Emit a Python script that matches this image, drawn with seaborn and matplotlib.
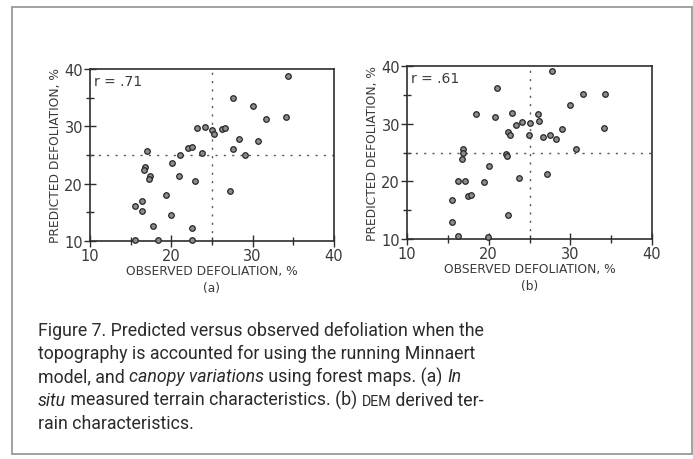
import matplotlib
matplotlib.use("Agg")
import matplotlib.pyplot as plt
import seaborn as sns
import pandas as pd
from matplotlib.lines import Line2D
from matplotlib.ticker import MultipleLocator

# ---- data ----
a_obs = [34.3, 27.6, 30.1, 34.1, 31.6, 23.2, 24.1, 25.0, 25.2, 26.2,
         26.6, 28.3, 30.7, 27.6, 29.1, 22.1, 22.5, 21.1, 23.8, 20.1,
         17.0, 16.8, 16.7, 17.4, 17.2, 20.9, 22.9, 27.2, 19.3, 15.5,
         16.4, 16.4, 19.9, 17.8, 22.6, 15.5, 18.4, 22.5]
a_pred = [38.7, 35.0, 33.5, 31.7, 31.2, 29.7, 29.9, 29.3, 28.7, 29.6,
          29.7, 27.8, 27.5, 26.0, 25.0, 26.2, 26.4, 25.0, 25.3, 23.6,
          25.7, 22.9, 22.3, 21.4, 20.8, 21.3, 20.4, 18.8, 18.1, 16.1,
          16.9, 15.2, 14.5, 12.7, 12.3, 10.2, 10.2, 10.2]
b_obs = [27.7, 21.0, 31.5, 34.2, 30.0, 18.5, 20.8, 22.85, 23.3, 24.1,
         25.0, 26.1, 26.2, 22.4, 22.6, 24.9, 26.6, 27.5, 28.2, 29.0,
         34.1, 30.7, 16.85, 16.85, 22.1, 22.3, 16.7, 20.1, 23.75, 27.1,
         16.3, 17.05, 19.4, 17.5, 17.8, 15.5, 22.4, 15.5, 16.3, 19.9]
b_pred = [39.1, 36.2, 35.2, 35.1, 33.3, 31.7, 31.1, 31.9, 29.8, 30.3,
          30.1, 31.7, 30.4, 28.5, 28.1, 28.1, 27.7, 27.95, 27.3, 29.0,
          29.2, 25.6, 25.6, 25.0, 24.8, 24.4, 23.9, 22.6, 20.6, 21.3,
          20.0, 20.0, 19.9, 17.5, 17.7, 16.8, 14.1, 12.9, 10.6, 10.3]
r_labels = ["r = .71", "r = .61"]
panel_labels = ["(a)", "(b)"]
ticks = [10, 20, 30, 40]
ref_line = 25
xlabel = "OBSERVED DEFOLIATION, %"
ylabel = "PREDICTED DEFOLIATION, %"

caption_lines = [
    [("Figure 7. Predicted versus observed defoliation when the", "n")],
    [("topography is accounted for using the running Minnaert", "n")],
    [("model, and ", "n"), ("canopy variations", "i"),
     (" using forest maps. (a) ", "n"), ("In", "i")],
    [("situ", "i"), (" measured terrain characteristics. (b) ", "n"),
     ("DEM", "sc"), (" derived ter-", "n")],
    [("rain characteristics.", "n")],
]

sns.set_style("ticks")
plt.rcParams["font.family"] = ["DejaVu Sans"]

W, H = 693, 460
fig = plt.figure(figsize=(W / 100, H / 100), dpi=100)
fig.patch.set_facecolor("white")

# outer frame
fc = "#9a9a9a"
for xs, ys in [((12, 692), (8, 8)), ((12, 12), (8, 455)),
               ((12, 692), (455, 455)), ((692, 692), (8, 455))]:
    fig.add_artist(Line2D([x / W for x in xs], [1 - y / H for y in ys],
                          transform=fig.transFigure, color=fc, lw=1.3))

axes_px = [(90, 70, 334, 242), (407, 67, 652, 240)]
datasets = [(a_obs, a_pred), (b_obs, b_pred)]
ink = "#2e2e2e"

for i, ((x0, y0, x1, y1), (obs, pred)) in enumerate(zip(axes_px, datasets)):
    ax = fig.add_axes([x0 / W, 1 - y1 / H, (x1 - x0) / W, (y1 - y0) / H])
    df = pd.DataFrame({"obs": obs, "pred": pred})
    sns.scatterplot(data=df, x="obs", y="pred", ax=ax, s=16, marker="o",
                    color="#8c8c8c", edgecolor="#262626", linewidth=0.9,
                    clip_on=False, zorder=3)
    ax.axvline(ref_line, color="#555", lw=1.0, ls=(0, (1.5, 4.5)), zorder=1)
    ax.axhline(ref_line, color="#555", lw=1.0, ls=(0, (1.5, 4.5)), zorder=1)
    ax.set_xlim(10, 40)
    ax.set_ylim(10, 40)
    ax.set_xticks(ticks)
    ax.set_yticks(ticks)
    ax.xaxis.set_minor_locator(MultipleLocator(5))
    ax.yaxis.set_minor_locator(MultipleLocator(5))
    ax.tick_params(which="major", direction="inout", length=8, width=1.0,
                   color=ink, labelsize=10.5, labelcolor="#3a3a3a", pad=1)
    ax.tick_params(which="minor", direction="inout", length=6, width=1.0,
                   color=ink)
    for sp in ax.spines.values():
        sp.set_color(ink)
        sp.set_linewidth(1.2)
        sp.set_visible(True)
    ax.set_xlabel(xlabel + "\n" + panel_labels[i], fontsize=8.8,
                  color="#3a3a3a", labelpad=1, linespacing=1.4)
    ax.set_ylabel(ylabel, fontsize=8.8, color="#3a3a3a", labelpad=2)
    ax.text(0.015, 0.93, r_labels[i], transform=ax.transAxes, fontsize=10,
            color="#3a3a3a", ha="left", va="center")

# caption with mixed styles
renderer = fig.canvas.get_renderer()
cap_family = ["Roboto", "DejaVu Sans"]
cap_size = 12.8
cap_color = "#2b2b2b"
baseline0 = 336
spacing = 23.2
for li, pieces in enumerate(caption_lines):
    xpix = 38.0
    ypix = baseline0 + li * spacing
    for txt, style in pieces:
        kw = dict(fontsize=cap_size, family=cap_family, color=cap_color,
                  ha="left", va="baseline")
        if style == "i":
            kw["style"] = "italic"
        if style == "sc":
            kw["fontsize"] = cap_size * 0.8
        t = fig.text(xpix / W, 1 - ypix / H, txt, **kw)
        bb = t.get_window_extent(renderer=renderer)
        xpix += bb.width

fig.savefig("out.png", dpi=100, facecolor="white")
